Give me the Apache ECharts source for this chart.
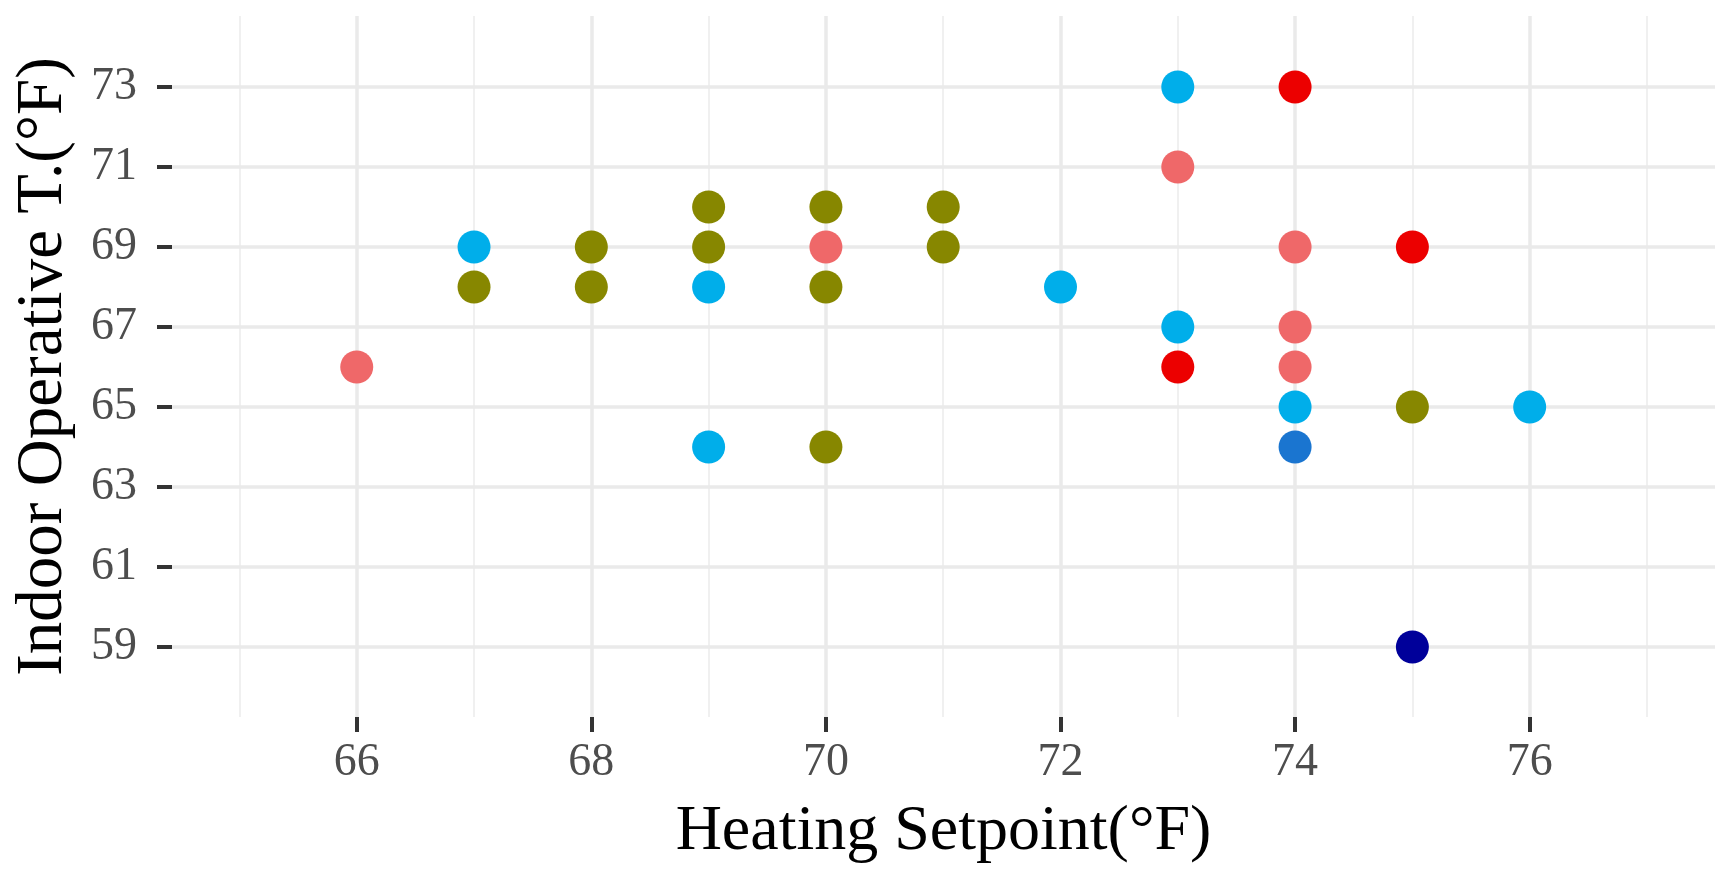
<!DOCTYPE html>
<html>
<head>
<meta charset="utf-8">
<script src="https://cdn.jsdelivr.net/npm/echarts@6/dist/echarts.min.js"></script>
<style>
html,body{margin:0;padding:0;background:#fff;}
#chart{width:1721px;height:873px;}
</style>
</head>
<body>
<div id="chart"></div>
<script>
// ---- data ----
const xTicks = [66, 68, 70, 72, 74, 76];
const xMinor = [65, 67, 69, 71, 73, 75, 77];
const yTicks = [59, 61, 63, 65, 67, 69, 71, 73];

const coralPts = [[66,66],[70,69],[73,71],[74,69],[74,67],[74,66]];
const redPts   = [[73,66],[74,73],[75,69]];
const skyPts   = [[67,69],[69,68],[69,64],[72,68],[73,73],[73,67],[74,65],[76,65]];
const olivePts = [[67,68],[68,69],[68,68],[69,70],[69,69],[70,70],[70,68],[70,64],[71,70],[71,69],[75,65]];
const bluePts  = [[74,64]];
const navyPts  = [[75,59]];

const xLabel = 'Heating Setpoint(°F)';
const yLabel = 'Indoor Operative T.(°F)';

// ---- chart ----
const FONT = '"Liberation Serif", "Times New Roman", serif';
const chart = echarts.init(document.getElementById('chart'), null, {renderer: 'canvas'});

function pts(name, data, color) {
  return {
    name, type: 'scatter', data, symbol: 'circle', symbolSize: 33, z: 5,
    itemStyle: {color: color, opacity: 1}, silent: true
  };
}

const gridSeries = {
  type: 'scatter', data: [], z: 1, silent: true,
  markLine: {
    silent: true, symbol: ['none', 'none'], animation: false,
    label: {show: false},
    data: [
      ...xMinor.map(v => ({xAxis: v, lineStyle: {color: '#F0F0F0', width: 2, type: 'solid'}})),
      ...xTicks.map(v => ({xAxis: v, lineStyle: {color: '#EAEAEA', width: 3.5, type: 'solid'}})),
      ...yTicks.map(v => ({yAxis: v, lineStyle: {color: '#EAEAEA', width: 3.5, type: 'solid'}}))
    ]
  }
};

chart.setOption({
  animation: false,
  backgroundColor: '#ffffff',
  grid: {left: 172, right: 6, top: 16, bottom: 156, containLabel: false},
  xAxis: {
    type: 'value', min: 64.425, max: 77.58,
    name: xLabel, nameLocation: 'middle', nameGap: 83,
    nameTextStyle: {fontFamily: FONT, fontSize: 64, color: '#000'},
    axisLine: {show: false},
    axisTick: {show: true, customValues: xTicks, length: 15, lineStyle: {color: '#333', width: 4}},
    axisLabel: {show: true, customValues: xTicks, margin: 23, fontFamily: FONT, fontSize: 46, color: '#4D4D4D'},
    splitLine: {show: false}
  },
  yAxis: {
    type: 'value', min: 57.25, max: 74.775,
    name: yLabel, nameLocation: 'middle', nameGap: 96,
    nameTextStyle: {fontFamily: FONT, fontSize: 65, color: '#000'},
    axisLine: {show: false},
    axisTick: {show: true, customValues: yTicks, length: 15, lineStyle: {color: '#333', width: 4}},
    axisLabel: {show: true, customValues: yTicks, margin: 35, fontFamily: FONT, fontSize: 46, color: '#4D4D4D'},
    splitLine: {show: false}
  },
  series: [
    gridSeries,
    pts('olive', olivePts, '#878700'),
    pts('sky', skyPts, '#00AEEA'),
    pts('coral', coralPts, '#EF6869'),
    pts('red', redPts, '#EC0000'),
    pts('blue', bluePts, '#1A75D0'),
    pts('navy', navyPts, '#00009A')
  ]
});
</script>
</body>
</html>
